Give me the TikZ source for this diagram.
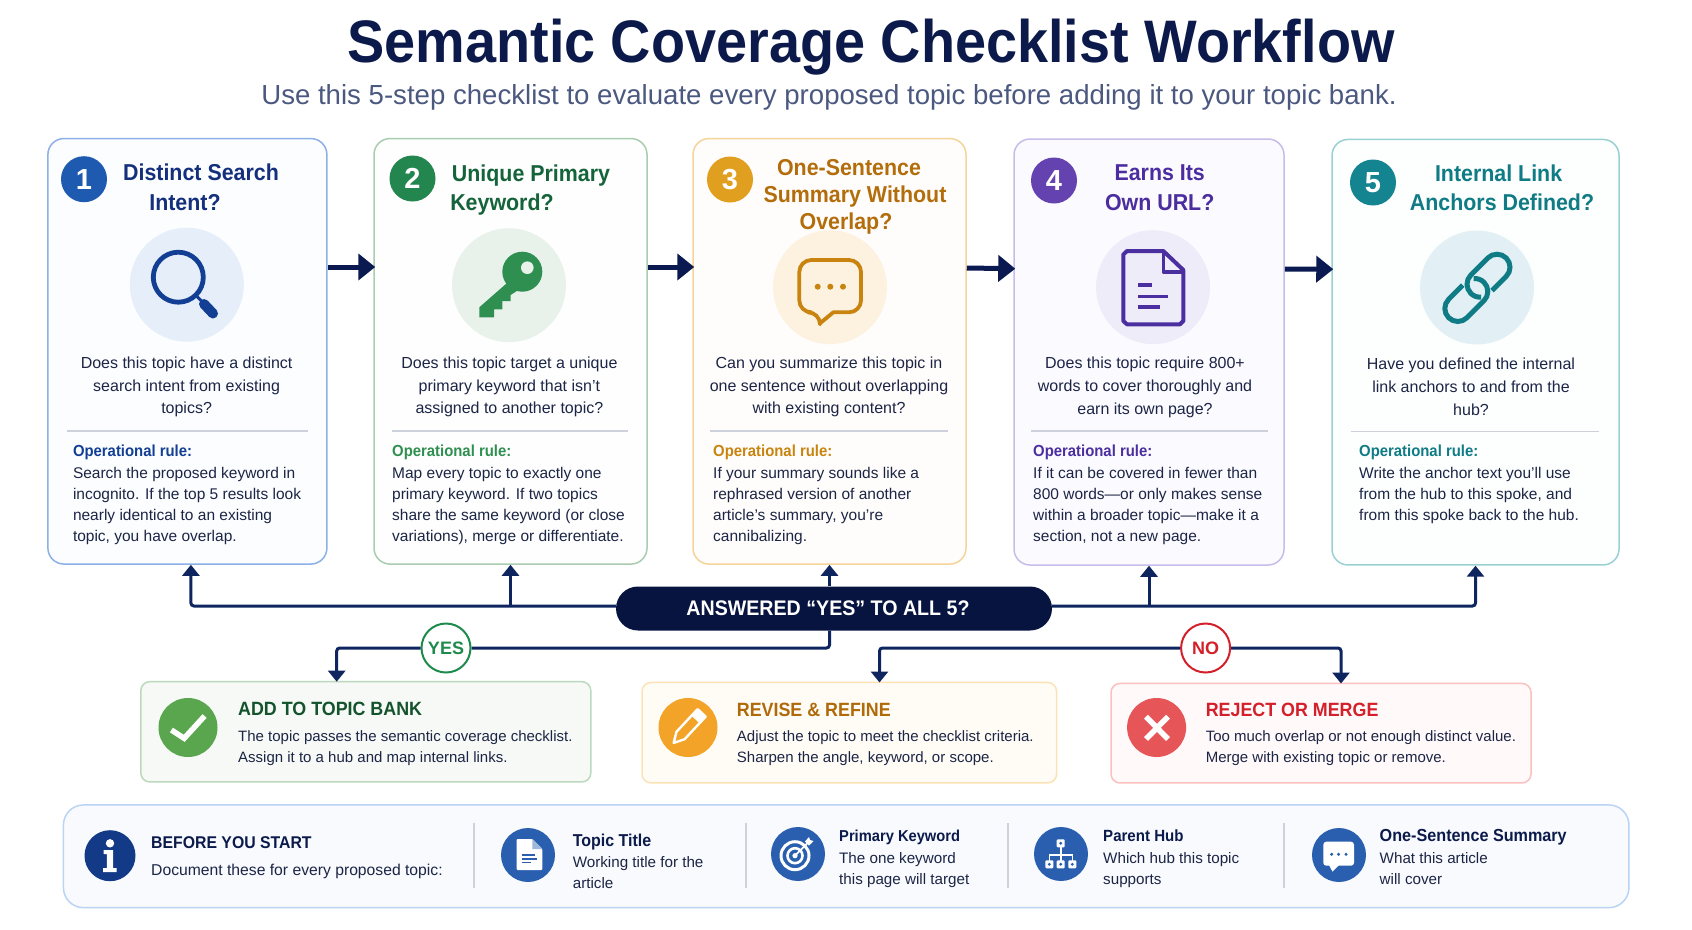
\documentclass[tikz,border=0pt]{standalone}
\usepackage{fontspec}
\setmainfont{Liberation Sans}
\newfontfamily\narrowfont[FakeStretch=0.93]{Liberation Sans}
\usetikzlibrary{arrows.meta}

\definecolor{ink}{HTML}{0B1A4A}
\definecolor{bodyink}{HTML}{1C2545}
\definecolor{subink}{HTML}{4B5880}
\definecolor{flow}{HTML}{0F2560}
\definecolor{flowdark}{HTML}{0A1A50}
\definecolor{pillfill}{HTML}{071440}
\definecolor{rulegray}{HTML}{CDD1DC}
\definecolor{line1}{HTML}{8DB0E6}
\definecolor{fill1}{HTML}{FCFDFF}
\definecolor{num1}{HTML}{1E5BB0}
\definecolor{head1}{HTML}{14307C}
\definecolor{soft1}{HTML}{E6EEFA}
\definecolor{icon1}{HTML}{123F94}
\definecolor{line2}{HTML}{A9CDB0}
\definecolor{fill2}{HTML}{FDFEFD}
\definecolor{num2}{HTML}{23864F}
\definecolor{head2}{HTML}{14633A}
\definecolor{soft2}{HTML}{E8F2EB}
\definecolor{icon2}{HTML}{2F8F50}
\definecolor{line3}{HTML}{F5D49A}
\definecolor{fill3}{HTML}{FFFDFB}
\definecolor{num3}{HTML}{E09F1F}
\definecolor{head3}{HTML}{B36D0B}
\definecolor{soft3}{HTML}{FDF2E0}
\definecolor{icon3}{HTML}{C8840F}
\definecolor{line4}{HTML}{C8BDEA}
\definecolor{fill4}{HTML}{FBFAFF}
\definecolor{num4}{HTML}{6442B0}
\definecolor{head4}{HTML}{4B2DA0}
\definecolor{soft4}{HTML}{EFECF9}
\definecolor{icon4}{HTML}{4B2FA0}
\definecolor{line5}{HTML}{9AD0D3}
\definecolor{fill5}{HTML}{FDFFFF}
\definecolor{num5}{HTML}{148590}
\definecolor{head5}{HTML}{0F7B85}
\definecolor{soft5}{HTML}{E2F0F5}
\definecolor{icon5}{HTML}{0F7B85}
\definecolor{panelblue}{HTML}{2A5FAF}

\tikzset{
    card/.style={rectangle,draw=line#1,fill=fill#1,line width=1.5pt,rounded corners=16pt,inner sep=0pt},
    numdisc/.style={circle,fill=num#1,text=white,minimum size=46pt,inner sep=0pt,font=\fontsize{29}{29}\selectfont\bfseries},
    softdisc/.style={circle,fill=soft#1,minimum size=114pt,inner sep=0pt},
    headline/.style={inner sep=0pt,text height=16pt,text depth=0pt,text=head#1,font=\narrowfont\fontsize{23}{23}\selectfont\bfseries},
    question/.style={inner sep=0pt,anchor=north,align=center,text=bodyink,font=\fontsize{16}{22.8}\selectfont},
    rulehead/.style={inner sep=0pt,anchor=west,text height=12pt,text depth=0pt,text=icon#1,font=\narrowfont\fontsize{16}{16}\selectfont\bfseries},
    ruletext/.style={inner sep=0pt,anchor=north west,align=left,text=bodyink,font=\fontsize{15.5}{20.9}\selectfont},
    bigarrow/.style={flowdark,line width=5pt,-{Triangle[length=17pt,width=26pt]}},
    uparrow/.style={flow,line width=3pt,rounded corners=3pt,-{Triangle[length=11pt,width=17pt]}},
    flowline/.style={flow,line width=3pt,rounded corners=3pt},
    answer/.style={circle,fill=white,draw=#1,text=#1,line width=2pt,minimum size=49pt,inner sep=0pt,font=\fontsize{18}{18}\selectfont\bfseries},
    result/.style={rectangle,rounded corners=9pt,line width=1.5pt,inner sep=0pt},
    resdisc/.style={circle,minimum size=59pt,inner sep=0pt,fill=#1},
    reshead/.style={inner sep=0pt,anchor=west,text height=13.5pt,text depth=0pt,font=\narrowfont\fontsize{19.2}{19.2}\selectfont\bfseries},
    restext/.style={inner sep=0pt,anchor=north west,align=left,text=bodyink,font=\fontsize{15}{21}\selectfont},
    paneldisc/.style={circle,minimum size=54pt,inner sep=0pt,fill=panelblue},
    panelhead/.style={inner sep=0pt,anchor=west,text height=12pt,text depth=0pt,text=ink},
    paneltext/.style={inner sep=0pt,anchor=north west,align=left,text=bodyink,font=\fontsize{15.2}{20.8}\selectfont},
    panelbar/.style={draw=rulegray,line width=1.6pt},
}

\begin{document}
\begin{tikzpicture}[x=1pt,y=-1pt]

    \useasboundingbox (0,0) rectangle (1692,929);
    \fill[white] (0,0) rectangle (1692,929);

    % title
    \node[inner sep=0pt,text height=43pt,text depth=0pt,text=ink,font=\narrowfont\fontsize{60}{60}\selectfont\bfseries] (title) at (871,41) {Semantic Coverage Checklist Workflow};
    \node[inner sep=0pt,text height=18pt,text depth=0pt,text=subink,font=\fontsize{27.6}{27.6}\selectfont] (subtitle) at (829,95) {Use this 5-step checklist to evaluate every proposed topic before adding it to your topic bank.};

    % five cards
    \foreach \n/\cx/\cy/\w/\h in {1/187.4/351.3/279/425.5,2/510.5/351.3/273/425.5,3/829.5/351.3/273/425.5,4/1149/352/270/426,5/1475.5/352.2/287/425.5} {
      \node[card=\n,minimum width=\w pt,minimum height=\h pt] (card\n) at (\cx,\cy) {};
    }

    % number and icon discs
    \foreach \n/\nx/\ny/\ix/\iy in {1/84/179.2/186.8/284.7,2/412.5/178.5/509/285.2,3/730/179.5/830/287.2,4/1054/180.5/1153/287.2,5/1373/182.5/1477/287.5} {
      \node[softdisc=\n] (disc\n) at (\ix,\iy) {};
      \node[numdisc=\n] (num\n) at (\nx,\ny) {\n};
    }

    % card headings, one node per line
    \foreach \n/\m/\hx/\hy/\txt in {1/a/201/172/{Distinct Search},1/b/185/202/{Intent?},2/a/531/173/{Unique Primary},2/b/502/202/{Keyword?},3/a/849/167.7/{One-Sentence},3/b/855/194.7/{Summary Without},3/c/846/221.7/{Overlap?},4/a/1159.7/172/{Earns Its},4/b/1159.7/202/{Own URL?},5/a/1498.6/173.5/{Internal Link},5/b/1502/202/{Anchors Defined?}} {
      \node[headline=\n] (head\n\m) at (\hx,\hy) {\txt};
    }

    % question under the icon
    \foreach \n/\qx/\qy/\txt in {1/186.6/356.5/{Does this topic have a distinct\\search intent from existing\\topics?},2/509.4/356.5/{Does this topic target a unique\\primary keyword that isn’t\\assigned to another topic?},3/829/356.5/{Can you summarize this topic in\\one sentence without overlapping\\with existing content?},4/1145/357/{Does this topic require 800+\\words to cover thoroughly and\\earn its own page?},5/1471/358/{Have you defined the internal\\link anchors to and from the\\hub?}} {
      \node[question] (ask\n) at (\qx,\qy) {\txt};
    }

    % dividers
    \foreach \n/\xa/\xb/\yy in {1/66.5/307.6/430.7,2/391.5/628/430.7,3/710/948/430.7,4/1031/1268/430.7,5/1351/1599/431.5} {
      \draw[rulegray,line width=1.8pt] (\xa,\yy) -- (\xb,\yy);
    }

    % operational rules
    \foreach \n/\rx/\txt in {1/72.8/{Search the proposed keyword in\\incognito. If the top 5 results look\\nearly identical to an existing\\topic, you have overlap.},2/392/{Map every topic to exactly one\\primary keyword. If two topics\\share the same keyword (or close\\variations), merge or differentiate.},3/713/{If your summary sounds like a\\rephrased version of another\\article’s summary, you’re\\cannibalizing.},4/1033/{If it can be covered in fewer than\\800 words—or only makes sense\\within a broader topic—make it a\\section, not a new page.},5/1359/{Write the anchor text you’ll use\\from the hub to this spoke, and\\from this spoke back to the hub.}} {
      \node[rulehead=\n] (rule\n) at (\rx,450) {Operational rule:};
      \node[ruletext] (ruletxt\n) at (\rx,467.5) {\txt};
    }

    % magnifier
    \draw[icon1,line width=4.8pt] (178.3,277.2) circle (25);
    \draw[icon1,line width=3pt] (196,295.5) -- (203,302.5);
    \draw[icon1,line width=10pt,line cap=round] (204,304) -- (213,313.5);

    % key
    \fill[icon2] (506.7,283.3) -- (479.3,307.3) -- (479.3,317.3) -- (494,317.3) -- (494,309.3) -- (502.3,309.3) -- (502.3,301) -- (510.7,301) -- (510.7,295) -- (518.3,290) -- cycle;
    \fill[icon2] (522.3,271.7) circle (20);
    \fill[soft2] (527.3,267.7) circle (6.3);

    % speech bubble
    \draw[icon3,line width=3.8pt,line join=round] (833.3,312.3) [rounded corners=12pt] -- (861,312.3) -- (861,260) -- (799.3,260) -- (799.3,312.3) -- (820,312.3) [sharp corners] -- (820,323.3) -- cycle;
    \foreach \dx in {817.7,830.3,843} {
      \fill[icon3] (\dx,286.7) circle (3);
    }

    % document
    \draw[icon4,line width=4pt,line join=round] (1163.3,251) -- (1127,251) -- (1123.3,254.5) -- (1123.3,321) -- (1127,324.3) -- (1180,324.3) -- (1183.3,321) -- (1183.3,270) -- cycle;
    \draw[icon4,line width=3.6pt,line join=round] (1163.3,251) -- (1163.3,271.7) -- (1183.3,271.7);
    \foreach \yy/\xe in {285/1151.7,296.3/1168.3,307/1160} {
      \draw[icon4,line width=3.6pt] (1138.3,\yy) -- (\xe,\yy);
    }

    % chain links
    \foreach \cx/\cy/\ang in {1488.5/275.7/45,1466.3/300/225} {
      \begin{scope}[shift={(\cx,\cy)},rotate=\ang]
        \draw[icon5,line width=5pt] (-8,13) -- (12,13) arc (90:-90:13) -- (-12,-13) arc (270:130:13);
      \end{scope}
    }

    % horizontal arrows between cards
    \foreach \a/\b/\dy in {1/2/84.3,2/3/84.3,3/4/83.3,4/5/83} {
      \draw[bigarrow] ([yshift=\dy pt]card\a.east) -- ([xshift=2pt,yshift=\dy pt]card\b.west);
    }

    % question pill and branches up
    \node[rectangle,rounded corners=22pt,fill=pillfill,text=white,minimum width=436pt,minimum height=44pt,inner sep=0pt,font=\narrowfont\fontsize{21.1}{21.1}\selectfont\bfseries] (pill) at (834,608.5) {\hspace*{-12pt}ANSWERED “YES” TO ALL 5?};
    \coordinate (hline) at (834,606);
    \draw[uparrow] (pill.west |- hline) -| ([xshift=3.5pt]card1.south);
    \draw[uparrow] (pill.east |- hline) -| (card5.south);
    \draw[uparrow] (card2.south |- hline) -- (card2.south);
    \draw[uparrow] (card4.south |- hline) -- (card4.south);
    \draw[uparrow] (card3.south |- pill.north) -- (card3.south);

    % outcome boxes
    \definecolor{addline}{HTML}{BBD9BE}\definecolor{addfill}{HTML}{F6F9F5}
    \definecolor{revline}{HTML}{FCE2B5}\definecolor{revfill}{HTML}{FFFCF6}
    \definecolor{rejline}{HTML}{FBC0C0}\definecolor{rejfill}{HTML}{FFF9F9}
    \definecolor{addhead}{HTML}{14532D}\definecolor{revhead}{HTML}{B06A0A}\definecolor{rejhead}{HTML}{D3202A}
    \definecolor{adddisc}{HTML}{5AA64E}\definecolor{revdisc}{HTML}{F3A428}\definecolor{rejdisc}{HTML}{E65557}
    \definecolor{yesgreen}{HTML}{1E8A4C}
    \foreach \k/\cx/\cy/\w/\h/\dx/\tx/\ty/\ttl/\txt in {add/365.8/731.8/450/100.3/188/238/709/{ADD TO TOPIC BANK}/{The topic passes the semantic coverage checklist.\\Assign it to a hub and map internal links.},rev/849.3/732.7/414.6/100.5/688/736.7/710/{REVISE \& REFINE}/{Adjust the topic to meet the checklist criteria.\\Sharpen the angle, keyword, or scope.},rej/1321/733.2/420/99.5/1156.6/1205.6/710/{REJECT OR MERGE}/{Too much overlap or not enough distinct value.\\Merge with existing topic or remove.}} {
      \node[result,draw=\k line,fill=\k fill,minimum width=\w pt,minimum height=\h pt] (box\k) at (\cx,\cy) {};
      \node[resdisc=\k disc] (icon\k) at (\dx,727.5) {};
      \node[reshead,text=\k head] (head\k) at (\tx,\ty) {\ttl};
      \node[restext] (text\k) at (\tx,730) {\txt};
    }

    % check, pencil, cross
    \draw[white,line width=5.5pt] (171.4,730) -- (184.2,738.3) -- (204.6,716);
    \begin{scope}[shift={(688,727.5)},rotate=47]
      \draw[white,line width=2.4pt,line join=round] (-21,0) -- (-11,-5.5) -- (20,-5.5) -- (20,5.5) -- (-11,5.5) -- cycle;
      \fill[white] (11,-5.5) rectangle (20,5.5);
    \end{scope}
    \draw[white,line width=5.5pt] (1146,716.7) -- (1168,739);
    \draw[white,line width=5.5pt] (1168,716.7) -- (1146,739);

    % decision circles and branches down
    \coordinate (addin) at (336.7,681.7);
    \coordinate (revin) at (879.5,682.5);
    \coordinate (rejin) at (1341,683.5);
    \node[answer=yesgreen] (yes) at (446,648) {YES};
    \node[answer=rejhead] (no) at (1205.6,648) {NO};
    \draw[flowline] (card3.south |- pill.south) |- (yes.east);
    \draw[uparrow] (yes.west) -| (addin);
    \draw[uparrow] (no.west) -| (revin);
    \draw[uparrow] (no.east) -| (rejin);

    % panel along the bottom
    \definecolor{panelline}{HTML}{BBD3F5}\definecolor{panelfill}{HTML}{F8FAFE}\definecolor{infoblue}{HTML}{123A86}
    \node[rectangle,draw=panelline,fill=panelfill,line width=1.5pt,rounded corners=20pt,minimum width=1565.5pt,minimum height=102.7pt,inner sep=0pt] (panel) at (846.2,856.3) {};
    \node[circle,fill=infoblue,minimum size=51pt,inner sep=0pt] (info) at (110,855.7) {};
    \fill[white] (110,843.3) circle (4.2);
    \fill[white] (103.5,850) -- (113,850) -- (113,868) -- (116.5,868) -- (116.5,872) -- (103,872) -- (103,868) -- (106.8,868) -- (106.8,854) -- (103.5,854) -- cycle;
    \node[panelhead,font=\narrowfont\fontsize{17}{17}\selectfont\bfseries] (before) at (151,842) {BEFORE YOU START};
    \node[inner sep=0pt,anchor=west,text height=12pt,text depth=0pt,text=bodyink,font=\fontsize{15.7}{15.7}\selectfont] (document) at (151,869) {Document these for every proposed topic:};

    \foreach \n/\bx in {1/473.7,2/746,3/1008,4/1284} {
      \draw[panelbar] (\bx,823) -- (\bx,888);
    }

    \foreach \k/\dx/\dy/\tx/\hy/\ly/\sz/\ttl/\txt in {title/528/855/572.6/840/856.5/17.2/{Topic Title}/{Working title for the\\article},keyword/798/854/839/835/852/15.8/{Primary Keyword}/{The one keyword\\this page will target},hub/1061/854/1103/835/852/16.2/{Parent Hub}/{Which hub this topic\\supports},summary/1339/855/1379.5/835/852/17.4/{One-Sentence Summary}/{What this article\\will cover}} {
      \node[paneldisc] (disc\k) at (\dx,\dy) {};
      \node[panelhead,font=\narrowfont\fontsize{\sz}{\sz}\selectfont\bfseries] (name\k) at (\tx,\hy) {\ttl};
      \node[paneltext] (note\k) at (\tx,\ly) {\txt};
    }

    % small document
    \fill[white,rounded corners=1pt] (516.7,839) -- (532.3,839) -- (542.3,849) -- (542.3,870) -- (516.7,870) -- cycle;
    \fill[panelblue!45] (532.3,839) -- (542.3,849) -- (532.3,849) -- cycle;
    \foreach \yy/\xe in {855/535,859/537,862.7/531} {
      \draw[panelblue,line width=1.2pt] (521.7,\yy) -- (\xe,\yy);
    }

    % target
    \draw[white,line width=3pt] (795,855.7) circle (14);
    \draw[white,line width=2.6pt] (795,855.7) circle (7.5);
    \fill[white] (795,855.7) circle (2.6);
    \draw[white,line width=1.8pt] (795,855.7) -- (809,841.5);
    \fill[white] (805,841.5) -- (809,837) -- (810,840) -- (813.5,841) -- (809,845.5) -- cycle;

    % small hierarchy
    \draw[white,line width=1.6pt] (1060.7,843.3) -- (1060.7,864) (1049.3,864) -- (1049.3,855) -- (1072.3,855) -- (1072.3,864);
    \foreach \hx/\hy in {1060.7/843.3,1049.3/864.3,1060.7/864.3,1072.3/864.3} {
      \fill[white,rounded corners=1pt] (\hx-4,\hy-4) rectangle (\hx+4,\hy+4);
      \fill[panelblue] (\hx,\hy) circle (1.6);
    }

    % small speech bubble
    \fill[white,rounded corners=3pt] (1323.3,841.7) -- (1354,841.7) -- (1354,865.7) -- (1323.3,865.7) -- cycle;
    \fill[white] (1329,865) -- (1339,865) -- (1332.5,871.7) -- cycle;
    \foreach \dx in {1331.7,1338.5,1346} {
      \fill[panelblue] (\dx,854.3) circle (1.7);
    }

\end{tikzpicture}
\end{document}
